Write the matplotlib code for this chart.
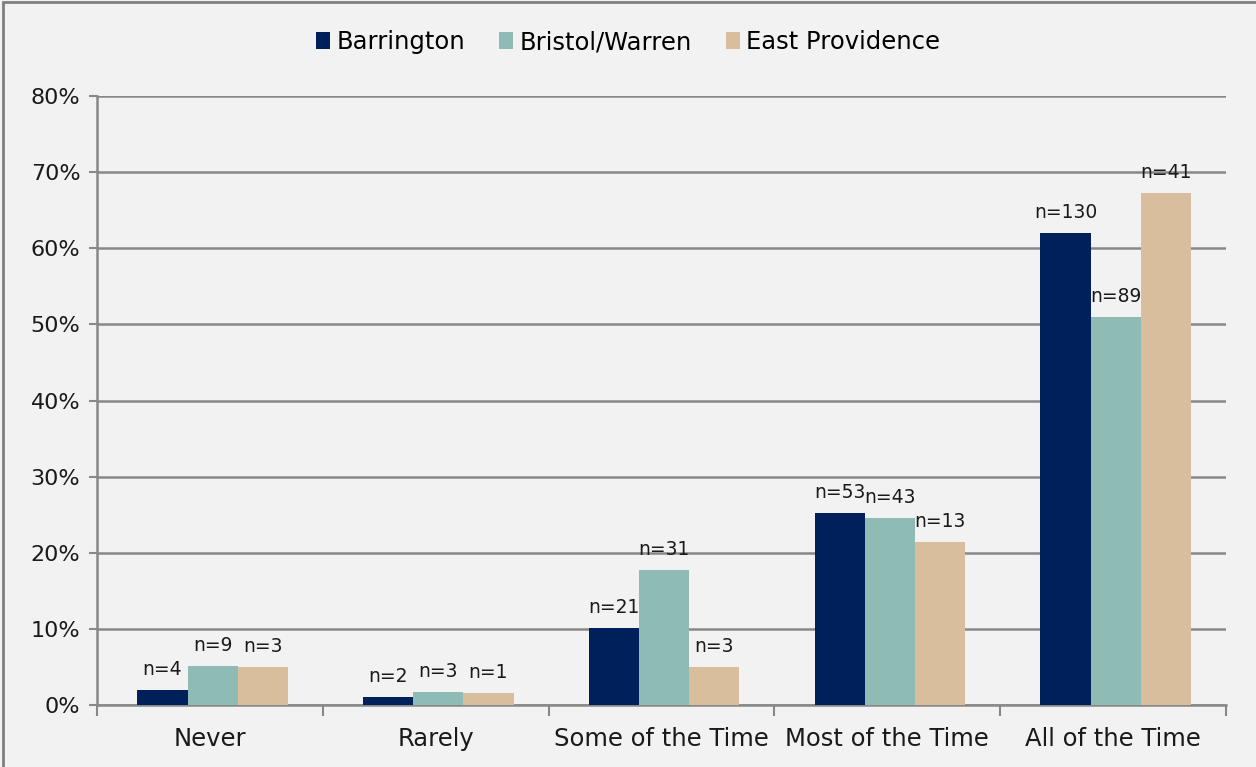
import numpy as np
import matplotlib
matplotlib.use('Agg')
import matplotlib.pyplot as plt
from matplotlib.patches import Rectangle

plt.rcParams['font.family'] = ['DejaVu Sans']

categories = ['Never', 'Rarely', 'Some of the Time', 'Most of the Time', 'All of the Time']
series = ['Barrington', 'Bristol/Warren', 'East Providence']
barrington = [2.0, 1.0, 10.1, 25.2, 62.0]
bristol_warren = [5.1, 1.7, 17.7, 24.6, 51.0]
east_providence = [5.0, 1.6, 5.0, 21.4, 67.3]
n_barrington = [4, 2, 21, 53, 130]
n_bristol_warren = [9, 3, 31, 43, 89]
n_east_providence = [3, 1, 3, 13, 41]
colors = ['#00205C', '#8FBBB5', '#D8BE9D']

values = [barrington, bristol_warren, east_providence]
counts = [n_barrington, n_bristol_warren, n_east_providence]

bg = '#F2F2F2'
fig = plt.figure(figsize=(12.56, 7.67), dpi=100, facecolor=bg)
ax = fig.add_axes([0.0772, 0.0808, 0.8988, 0.794])
ax.set_facecolor(bg)

x = np.arange(len(categories))
w = 0.222
for i, (vals, ns) in enumerate(zip(values, counts)):
    pos = x + (i - 1) * w + 0.012
    bars = ax.bar(pos, vals, width=w, color=colors[i], label=series[i], zorder=3)
    for b, n in zip(bars, ns):
        ax.annotate(f'n={n}', (b.get_x() + b.get_width() / 2, b.get_height()),
                    xytext=(0, 8), textcoords='offset points',
                    ha='center', va='bottom', fontsize=13.5, color='#1a1a1a', zorder=4)

ax.set_ylim(0, 80)
ax.set_xlim(-0.5, len(categories) - 0.5)
ax.set_yticks(np.arange(0, 81, 10))
ax.set_yticklabels([f'{v}%' for v in range(0, 81, 10)], fontsize=16, color='#1a1a1a')
ax.set_xticks(x)
ax.set_xticklabels(categories, fontsize=17.5, color='#1a1a1a')
ax.set_xticks(np.arange(-0.5, len(categories), 1), minor=True)
ax.tick_params(axis='x', which='major', length=0, pad=16)
ax.tick_params(axis='x', which='minor', length=8, width=1.5, color='#888888')
ax.tick_params(axis='y', length=6, width=1.5, color='#888888', pad=6)
ax.grid(axis='y', color='#888888', linewidth=1.8, zorder=1)

for s in ['top', 'right']:
    ax.spines[s].set_visible(False)
for s in ['left', 'bottom']:
    ax.spines[s].set_color('#888888')
    ax.spines[s].set_linewidth(1.8)

ax.legend(loc='center', bbox_to_anchor=(0.5, 0.945), bbox_transform=fig.transFigure,
          ncol=3, frameon=False, fontsize=17.5, handlelength=0.6, handleheight=0.7,
          handletextpad=0.25, columnspacing=1.4)

# outer border of the chart area
fig.patches.append(Rectangle((0.0025, -0.01), 1.2, 1.007, transform=fig.transFigure,
                             fill=False, edgecolor='#7f7f7f', linewidth=2))

fig.savefig('out.png', dpi=100, facecolor=bg)
